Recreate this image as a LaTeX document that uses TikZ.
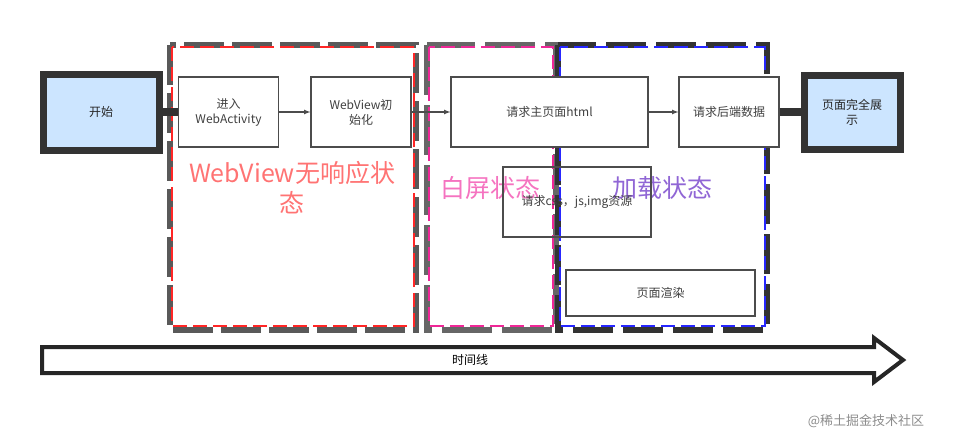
\documentclass[tikz,border=0pt]{standalone}
\usepackage{fontspec}
\setmainfont{Noto Sans CJK SC}
\definecolor{termfill}{RGB}{204,229,255}
\begin{document}
\begin{tikzpicture}[x=1pt,y=-1pt,
  box/.style={draw=black!70,line width=1.2pt,fill=white,minimum width=#1,minimum height=70pt,align=center,font=\fontsize{12}{15}\selectfont,text=black!75,inner sep=1pt},
  box/.default=100pt,
  term/.style={draw=black!80,line width=7pt,fill=termfill,minimum width=116pt,minimum height=76pt,align=center,font=\fontsize{12}{15}\selectfont,text=black!85},
  lbl/.style={font=\fontsize{25}{30}\selectfont,align=center},
  arr/.style={-latex,draw=black!70,line width=1.2pt},
  thick link/.style={draw=black!80,line width=8pt}]
\useasboundingbox (0,0) rectangle (960,444);
% regions
\draw[black!65,line width=6pt,dash pattern=on 40pt off 8pt] (170,45) rectangle (416,330);
\draw[red!85,line width=2.5pt,dash pattern=on 14pt off 6pt] (172,47) rectangle (414,326);
\draw[black!60,line width=6pt,dash pattern=on 50pt off 10pt] (427,45) rectangle (556,330);
\draw[magenta!80!pink,line width=2.5pt,dash pattern=on 14pt off 6pt] (429,47) rectangle (553,326);
\draw[black!80,line width=6pt,dash pattern=on 40pt off 10pt] (558,45) rectangle (767,330);
\draw[blue!85,line width=2.5pt,dash pattern=on 14pt off 6pt] (560,47) rectangle (765,326);
\node[lbl,text=red!55] (l1) at (292,188) {WebView无响应状\\态};
\node[lbl,text=magenta!55] (l2) at (490,188) {白屏状态};
\node[lbl,text=blue!45!violet!60] (l3) at (662,188) {加载状态};
% boxes
\node[term] (start) at (101,112) {开始};
\node[box] (a) at (228.5,112) {进入\\WebActivity};
\node[box] (b) at (361,112) {WebView初\\始化};
\node[box=197pt] (c) at (549.5,112) {请求主页面html};
\node[box] (d) at (729,112) {请求后端数据};
\node[term,minimum width=96pt,minimum height=74pt] (e) at (852,112) {页面完全展\\示};
\node[box=148pt,fill=none] (f) at (577,202) {请求css，js,img资源};
\node[box=189pt,minimum height=46pt] (g) at (660.5,293) {页面渲染};
\draw[thick link] (start.east) -- (a.west);
\draw[thick link] (d.east) -- (e.west);
\draw[arr] (a) -- (b);
\draw[arr] (b) -- (c);
\draw[arr] (c) -- (d);
% timeline
\draw[black!85,line width=4pt,fill=white] (42,347) -- (874,347) -- (874,338) -- (903,360) -- (874,382) -- (874,373) -- (42,373) -- cycle;
\node[font=\fontsize{12}{15}\selectfont] (tl) at (470,360) {时间线};
\node[font=\fontsize{13}{15}\selectfont,text=black!45] (wm) at (866,421) {@稀土掘金技术社区};
\end{tikzpicture}
\end{document}
